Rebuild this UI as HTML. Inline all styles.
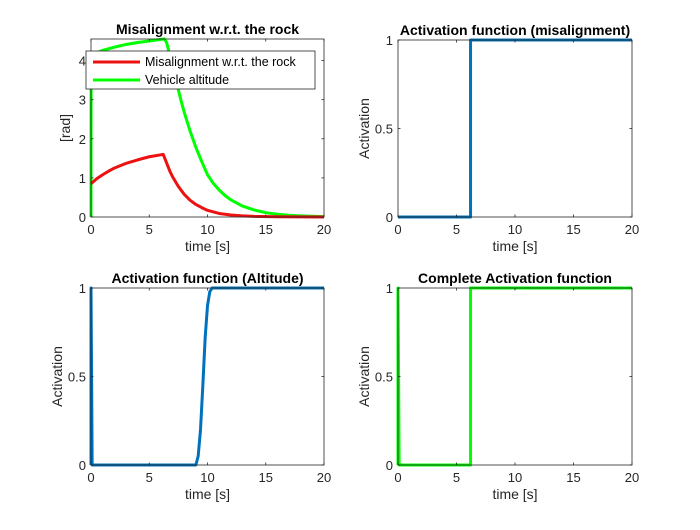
<!DOCTYPE html>
<html><head><meta charset="utf-8"><style>
body{margin:0;background:#fff;width:700px;height:525px;overflow:hidden}
svg{font-family:"Liberation Sans",Arial,sans-serif}
</style></head><body>
<svg id="fig" width="700" height="525"></svg>
<script>
const xTicks=[0,5,10,15,20];
const actTicks=[0,0.5,1];
const radTicks=[0,1,2,3,4];
const tGreen=[0,0.01,0.5,1,1.5,2,3,4,5,6,6.3,6.5,6.75,7,7.25,7.5,7.75,8,8.5,9,9.5,10,10.5,11,11.5,12,13,14,15,16,17,18,19,20];
const vAltitude=[0,4.05,4.2,4.26,4.3,4.34,4.41,4.46,4.5,4.54,4.55,4.45,4.15,3.85,3.55,3.25,2.95,2.68,2.2,1.78,1.42,1.08,0.86,0.69,0.55,0.44,0.28,0.18,0.11,0.07,0.045,0.03,0.02,0.01];
const tRed=[0,0.5,1,1.5,2,3,4,5,6,6.2,6.4,6.6,6.8,7,7.5,8,8.5,9,9.5,10,11,12,13,14,16,20];
const vMisalign=[0.85,0.98,1.08,1.17,1.25,1.37,1.46,1.54,1.59,1.6,1.45,1.3,1.15,1.03,0.78,0.58,0.43,0.32,0.24,0.17,0.09,0.05,0.03,0.015,0.005,0];
const tActMis=[0,6.2,6.2,20];
const vActMis=[0,0,1,1];
const tActAlt=[0,0,0.1,9,9.2,9.4,9.6,9.8,10,10.2,10.4,20];
const vActAlt=[0,1,0,0,0.05,0.2,0.45,0.72,0.9,0.98,1,1];
const tActAll=[0,0,0.1,6.2,6.2,20];
const vActAll=[0,1,0,0,1,1];

const NS='http://www.w3.org/2000/svg';
const svg=document.getElementById('fig');
function mk(tag,attrs,parent){const e=document.createElementNS(NS,tag);for(const k in attrs)e.setAttribute(k,attrs[k]);(parent||svg).appendChild(e);return e;}

function axes(key,L,T,W,H,ymax,yt,title,ylabel,series){
  const g=mk('g',{});
  
  
  const sx=v=>L+v/20*W, sy=v=>T+H-v/ymax*H;
  mk('rect',{x:L,y:T,width:W,height:H,fill:'#fff',stroke:'none'},g);
  series.forEach(s=>{
    const p=mk('polyline',{points:s.t.map((t,i)=>sx(t)+','+sy(s.v[i])).join(' '),fill:'none',stroke:s.c,'stroke-width':3,'stroke-linejoin':'round'},g);
    
    
  });
  mk('rect',{x:L,y:T,width:W,height:H,fill:'none',stroke:'#262626','stroke-width':0.8},g);
  xTicks.forEach(v=>{
    const x=sx(v);
    mk('line',{x1:x,x2:x,y1:T+H,y2:T+H-2.5,stroke:'#262626','stroke-width':0.8},g);
    mk('line',{x1:x,x2:x,y1:T,y2:T+2.5,stroke:'#262626','stroke-width':0.8},g);
    const tx=mk('text',{x:x,y:T+H+17,'text-anchor':'middle','font-size':13,fill:'#262626'},g);tx.textContent=v;
    
    
  });
  yt.forEach(v=>{
    const y=sy(v);
    mk('line',{x1:L,x2:L+2.5,y1:y,y2:y,stroke:'#262626','stroke-width':0.8},g);
    mk('line',{x1:L+W,x2:L+W-2.5,y1:y,y2:y,stroke:'#262626','stroke-width':0.8},g);
    const tx=mk('text',{x:L-5,y:y+5,'text-anchor':'end','font-size':13,fill:'#262626'},g);tx.textContent=v;
    
    
  });
  const ti=mk('text',{x:L+W/2,y:T-5,'text-anchor':'middle','font-size':14,'font-weight':'bold',fill:'#000'},g);ti.textContent=title;
  
  
  const xl=mk('text',{x:L+W/2,y:T+H+34,'text-anchor':'middle','font-size':14,fill:'#262626'},g);xl.textContent='time [s]';
  
  
  const yl=mk('text',{x:0,y:0,'text-anchor':'middle','font-size':14,fill:'#262626',transform:`translate(${L-(ymax>2?21:29)},${T+H/2}) rotate(-90)`},g);yl.textContent=ylabel;
  
  
  return {sx,sy,g};
}
axes('misalignment',91,39,233,178,4.55,radTicks,'Misalignment w.r.t. the rock','[rad]',[
  {t:tGreen,v:vAltitude,c:'#00ff00',name:'altitude-line'},
  {t:tRed,v:vMisalign,c:'#ee1111',name:'misalignment-line'}]);
axes('activation-misalignment',398,40,234,177,1,actTicks,'Activation function (misalignment)','Activation',[
  {t:tActMis,v:vActMis,c:'#0072bd',name:'activation-misalignment-line'}]);
axes('activation-altitude',91,288,233,177,1,actTicks,'Activation function (Altitude)','Activation',[
  {t:tActAlt,v:vActAlt,c:'#0072bd',name:'activation-altitude-line'}]);
axes('complete-activation',398,288,234,177,1,actTicks,'Complete Activation function','Activation',[
  {t:tActAll,v:vActAll,c:'#00ff00',name:'complete-activation-line'}]);
const lg=mk('g',{});


mk('rect',{x:86,y:51,width:229,height:38,fill:'#fff',stroke:'#262626','stroke-width':0.8},lg);
mk('line',{x1:93,x2:140,y1:62,y2:62,stroke:'#ee1111','stroke-width':3},lg);
mk('line',{x1:93,x2:140,y1:80,y2:80,stroke:'#00ff00','stroke-width':3},lg);
const l1=mk('text',{x:145,y:66,'font-size':12.5,fill:'#000'},lg);l1.textContent='Misalignment w.r.t. the rock';


const l2=mk('text',{x:145,y:84,'font-size':12.5,fill:'#000'},lg);l2.textContent='Vehicle altitude';


</script>
</body></html>
